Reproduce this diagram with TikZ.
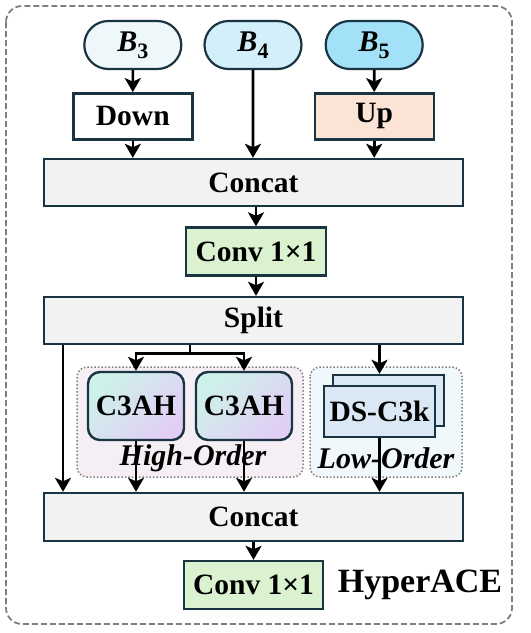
\documentclass[tikz,border=0pt]{standalone}
\usepackage{fontspec}
\setmainfont{Liberation Serif}
\usetikzlibrary{arrows.meta,positioning,shapes.misc}
\definecolor{edgedark}{HTML}{1A3442}
\definecolor{bthree}{HTML}{EEF8FB}
\definecolor{bfour}{HTML}{D3F0FA}
\definecolor{bfive}{HTML}{A3E1F8}
\definecolor{upfill}{HTML}{FBE3D5}
\definecolor{concatgray}{HTML}{F2F2F2}
\definecolor{convgreen}{HTML}{DAF2D0}
\definecolor{dsblue}{HTML}{DAE8F5}
\definecolor{highfill}{HTML}{F5EFF5}
\definecolor{lowfill}{HTML}{F0F8FB}
\definecolor{ahtop}{HTML}{CDF2EA}
\definecolor{ahmid}{HTML}{EEF1FA}
\definecolor{ahbot}{HTML}{E2CEF5}
\definecolor{framegray}{HTML}{7F7F7F}
\newcommand{\bsub}[1]{\textit{B}\raisebox{-7pt}{\fontsize{22}{22}\selectfont #1}}
\tikzset{
  boxfont/.style={font=\fontsize{29.5}{31}\selectfont\bfseries},
  pill/.style={rounded rectangle, draw=edgedark, line width=2.2pt, minimum width=97pt,
    minimum height=48pt, inner sep=0pt, font=\fontsize{30}{31}\selectfont\bfseries},
  opbox/.style={draw=edgedark, line width=2.4pt, minimum width=119pt, minimum height=46pt,
    inner sep=0pt, boxfont},
  widebox/.style={draw=edgedark, line width=2.4pt, fill=concatgray, minimum width=419pt,
    minimum height=47pt, inner sep=0pt, boxfont},
  convbox/.style={draw=edgedark, line width=2.4pt, fill=convgreen, minimum width=140pt,
    minimum height=48pt, inner sep=0pt, boxfont},
  ahbox/.style={draw=edgedark, line width=2.4pt, rounded corners=12pt, minimum width=96pt,
    minimum height=68pt, inner sep=0pt, top color=ahtop, middle color=ahmid,
    bottom color=ahbot, shading angle=45, boxfont},
  dsbox/.style={draw=edgedark, line width=2.4pt, fill=dsblue, minimum width=111pt,
    minimum height=51pt, inner sep=0pt, boxfont},
  groupbox/.style={draw=framegray, line width=1.5pt, dotted, rounded corners=10pt},
  grouplabel/.style={font=\fontsize{30}{31}\selectfont\bfseries\itshape, inner sep=0pt},
  flow/.style={-{Stealth[length=14pt,width=16pt,inset=3.5pt]}, line width=2.6pt}
}
\begin{document}
\begin{tikzpicture}[x=1pt,y=-1pt]
  \useasboundingbox (0,0) rectangle (531,633);
  \draw[framegray, line width=1.8pt, dash pattern=on 6pt off 3pt, rounded corners=16pt]
    (6,6) rectangle (512,624);

  % inputs
  \node[pill, fill=bfour] (b4) at (253,45) {\bsub{4}};
  \node[pill, fill=bthree, left=21pt of b4] (b3) {\bsub{3}};
  \node[pill, fill=bfive, right=22pt of b4] (b5) {\bsub{5}};
  \node[opbox, fill=white, below=22pt of b3] (down) {Down};
  \node[opbox, fill=upfill, below=22pt of b5] (up) {Up};
  \node[widebox] (cat1) at (253.5,182.5) {Concat};
  \node[convbox] (conv1) at (256,251.5) {Conv 1×1};
  \node[widebox] (split) at (253.5,320.5) {Split};

  % branch groups
  \draw[groupbox, fill=highfill] (77,367) rectangle (303,477);
  \draw[groupbox, fill=lowfill] (310,367) rectangle (462,477);
  \node[ahbox] (ah1) at (136,406) {C3AH};
  \node[ahbox] (ah2) at (244,406) {C3AH};
  \node[dsbox] (dsback) at (388.5,400.5) {};
  \node[dsbox] (dsfront) at (379.5,411.5) {DS-C3k};

  \node[widebox, minimum height=48pt] (cat2) at (253.5,517) {Concat};
  \node[convbox, minimum width=139pt] (conv2) at (253.5,585) {Conv 1×1};
  \node[font=\fontsize{34}{36}\selectfont\bfseries, inner sep=0pt] (title) at (420,585) {HyperACE};

  % arrows
  \draw[flow] (b3) -- (down);
  \draw[flow] (b5) -- (up);
  \draw[flow] (down) -- (down.south |- cat1.north);
  \draw[flow] (b4) -- (b4.south |- cat1.north);
  \draw[flow] (up) -- (up.south |- cat1.north);
  \draw[flow] (cat1.south -| conv1) -- (conv1);
  \draw[flow] (conv1) -- (conv1.south |- split.north);
  \draw[flow] ([xshift=-190.5pt]split.south) -- ([xshift=-190.5pt]split.south |- cat2.north);
  \coordinate (fork) at ([xshift=-63.5pt,yshift=-8pt]split.south);
  \draw[flow] ([xshift=-63.5pt]split.south) -- (fork) -| (ah1.north);
  \draw[flow] (fork) -| (ah2.north);
  \draw[flow] (split.south -| dsfront) -- (dsback.north -| dsfront);
  \draw[flow] (ah1) -- (ah1.south |- cat2.north);
  \draw[flow] (ah2) -- (ah2.south |- cat2.north);
  \draw[flow] (dsfront) -- (dsfront.south |- cat2.north);
  \draw[flow] (cat2) -- (conv2);

  \node[grouplabel] (highlabel) at (193,458) {High-Order};
  \node[grouplabel] (lowlabel) at (386,458) {Low-Order};
\end{tikzpicture}
\end{document}
